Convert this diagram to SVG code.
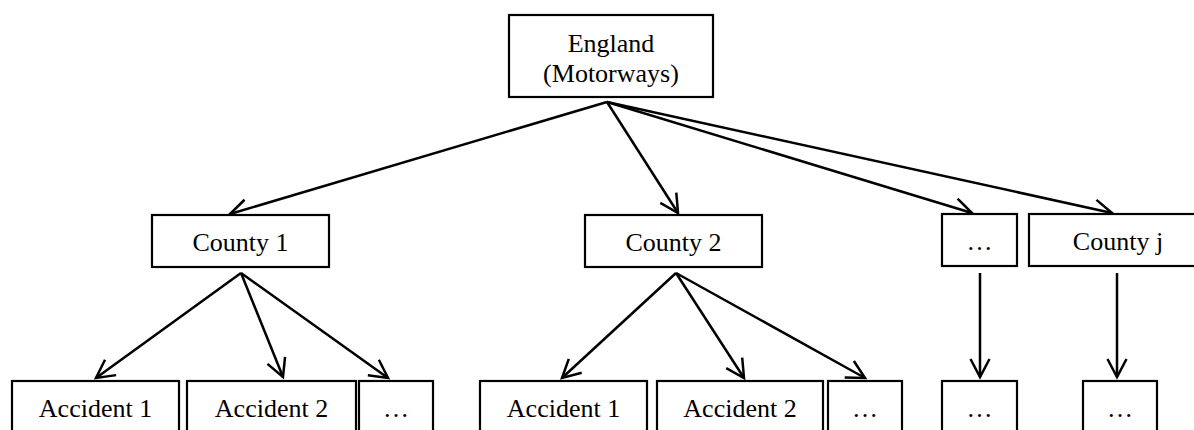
<svg xmlns="http://www.w3.org/2000/svg" width="1194" height="430" viewBox="0 0 1194 430">
<defs>
<style>
.box{fill:#fff;stroke:#000;stroke-width:2.2}
.t{font-family:"Liberation Serif","Times New Roman",serif;font-size:26px;fill:#000;text-anchor:middle}
.c{fill:none;stroke:#000;stroke-width:2.5}
</style>
<marker id="arr" markerUnits="userSpaceOnUse" viewBox="-20 -12 23 24" refX="0" refY="0" markerWidth="23" markerHeight="24" orient="auto">
<path d="M-18,-9.5 L0,0 L-18,9.5" fill="none" stroke="#000" stroke-width="2.5"/>
</marker>
</defs>
<rect width="1194" height="430" fill="#fff"/>
<g id="connectors">
<line class="c" x1="607" y1="102" x2="230" y2="214" marker-end="url(#arr)"/>
<line class="c" x1="607" y1="102" x2="678" y2="213" marker-end="url(#arr)"/>
<line class="c" x1="607" y1="102" x2="972" y2="213" marker-end="url(#arr)"/>
<line class="c" x1="607" y1="102" x2="1112" y2="213" marker-end="url(#arr)"/>
<line class="c" x1="241" y1="273" x2="96" y2="378" marker-end="url(#arr)"/>
<line class="c" x1="241" y1="273" x2="283" y2="377" marker-end="url(#arr)"/>
<line class="c" x1="241" y1="273" x2="388" y2="378" marker-end="url(#arr)"/>
<line class="c" x1="676" y1="273" x2="562" y2="378" marker-end="url(#arr)"/>
<line class="c" x1="676" y1="273" x2="744" y2="378" marker-end="url(#arr)"/>
<line class="c" x1="676" y1="273" x2="865" y2="378" marker-end="url(#arr)"/>
<line class="c" x1="980" y1="273" x2="980" y2="377" marker-end="url(#arr)"/>
<line class="c" x1="1117" y1="273" x2="1117" y2="377" marker-end="url(#arr)"/>
</g>
<g id="england"><rect class="box" x="509" y="15" width="204" height="82"/><text class="t" x="611" y="52">England</text><text class="t" x="611" y="82">(Motorways)</text></g>
<g id="county1"><rect class="box" x="152" y="215" width="177" height="52"/><text class="t" x="240.5" y="251">County 1</text></g>
<g id="county2"><rect class="box" x="585" y="215" width="177" height="52"/><text class="t" x="673.5" y="251">County 2</text></g>
<g id="countydots"><rect class="box" x="942" y="214" width="75" height="52"/><text class="t" x="979.5" y="250">…</text></g>
<g id="countyj"><rect class="box" x="1029" y="214" width="180" height="52"/><text class="t" x="1118" y="250">County j</text></g>
<g id="acc1a"><rect class="box" x="12" y="381" width="167" height="60"/><text class="t" x="95.5" y="417">Accident 1</text></g>
<g id="acc2a"><rect class="box" x="187" y="381" width="169" height="60"/><text class="t" x="271.5" y="417">Accident 2</text></g>
<g id="dotsa"><rect class="box" x="359" y="381" width="74" height="60"/><text class="t" x="396" y="417">…</text></g>
<g id="acc1b"><rect class="box" x="480" y="381" width="167" height="60"/><text class="t" x="563.5" y="417">Accident 1</text></g>
<g id="acc2b"><rect class="box" x="657" y="381" width="166" height="60"/><text class="t" x="740" y="417">Accident 2</text></g>
<g id="dotsb"><rect class="box" x="828" y="381" width="74" height="60"/><text class="t" x="865" y="417">…</text></g>
<g id="dotsc"><rect class="box" x="942" y="381" width="75" height="60"/><text class="t" x="979.5" y="417">…</text></g>
<g id="dotsd"><rect class="box" x="1083" y="381" width="74" height="60"/><text class="t" x="1120" y="417">…</text></g>
</svg>
